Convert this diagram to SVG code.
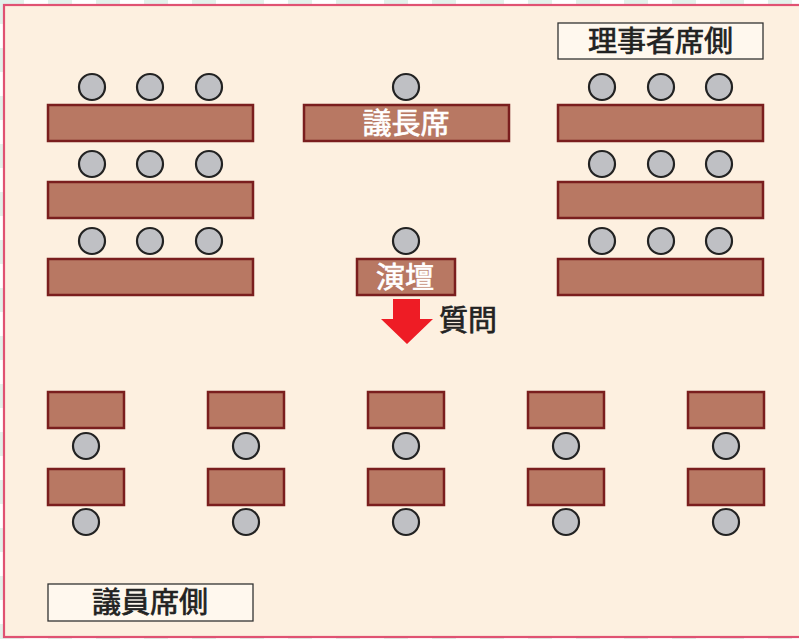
<svg xmlns="http://www.w3.org/2000/svg" width="799" height="639" viewBox="0 0 799 639">
<defs>
<pattern id="bg" width="48" height="48" patternUnits="userSpaceOnUse">
<rect width="48" height="48" fill="#ffffff"/>
<rect x="0" y="0" width="24" height="24" fill="#e3f1ea"/>
<rect x="24" y="24" width="24" height="24" fill="#e3f1ea"/>
</pattern>
<style>
.tbl{fill:#b87863;stroke:#7a1e1e;stroke-width:2.5}
.seat{fill:#bfc0c4;stroke:#222;stroke-width:2.2}
.lbl{fill:#fff8ee;stroke:#333;stroke-width:1.3}
.t{font-family:"Noto Sans CJK JP","Noto Sans",sans-serif;font-size:29px;font-weight:400;text-anchor:middle;stroke-width:0.7}
.dark{fill:#222;stroke:#222}
.white{fill:#ffffff;stroke:#ffffff}
</style>
</defs>
<rect width="799" height="639" fill="url(#bg)"/>
<rect id="frame" x="4" y="5" width="800" height="632" fill="#fdf0e0" stroke="#e05272" stroke-width="2.2"/>

<g id="label-riji"><rect class="lbl" x="558" y="23" width="205" height="36"/><text class="t dark" x="660.5" y="52">理事者席側</text></g>
<g id="label-giin"><rect class="lbl" x="48" y="584" width="205" height="37"/><text class="t dark" x="150" y="613">議員席側</text></g>

<g id="left-tables">
<circle class="seat" cx="92" cy="87" r="13"/><circle class="seat" cx="150" cy="87" r="13"/><circle class="seat" cx="209" cy="87" r="13"/>
<rect class="tbl" x="48" y="105" width="205" height="36"/>
<circle class="seat" cx="92" cy="164" r="13"/><circle class="seat" cx="150" cy="164" r="13"/><circle class="seat" cx="209" cy="164" r="13"/>
<rect class="tbl" x="48" y="182" width="205" height="36"/>
<circle class="seat" cx="92" cy="241" r="13"/><circle class="seat" cx="150" cy="241" r="13"/><circle class="seat" cx="209" cy="241" r="13"/>
<rect class="tbl" x="48" y="259" width="205" height="36"/>
</g>

<g id="right-tables">
<circle class="seat" cx="602" cy="87" r="13"/><circle class="seat" cx="661" cy="87" r="13"/><circle class="seat" cx="719" cy="87" r="13"/>
<rect class="tbl" x="558" y="105" width="205" height="36"/>
<circle class="seat" cx="602" cy="164" r="13"/><circle class="seat" cx="661" cy="164" r="13"/><circle class="seat" cx="719" cy="164" r="13"/>
<rect class="tbl" x="558" y="182" width="205" height="36"/>
<circle class="seat" cx="602" cy="241" r="13"/><circle class="seat" cx="661" cy="241" r="13"/><circle class="seat" cx="719" cy="241" r="13"/>
<rect class="tbl" x="558" y="259" width="205" height="36"/>
</g>

<g id="chair">
<circle class="seat" cx="406" cy="87" r="13"/>
<rect class="tbl" x="304" y="105" width="205" height="36"/>
<text class="t white" x="406" y="134">議長席</text>
</g>

<g id="podium">
<circle class="seat" cx="406" cy="241" r="13"/>
<rect class="tbl" x="357" y="259" width="98" height="36"/>
<text class="t white" x="405" y="288">演壇</text>
</g>

<g id="connectors">
<polygon id="arrow" points="393,299 420,299 420,319 433,319 407,344 381,319 393,319" fill="#ee1c25"/>
</g>
<g id="question"><text class="t dark" x="468" y="331">質問</text></g>

<g id="member-desks">
<g id="col1"><rect class="tbl" x="48" y="392" width="76" height="36"/><circle class="seat" cx="86" cy="446" r="13"/><rect class="tbl" x="48" y="469" width="76" height="36"/><circle class="seat" cx="86" cy="522" r="13"/></g>
<g id="col2"><rect class="tbl" x="208" y="392" width="76" height="36"/><circle class="seat" cx="246" cy="446" r="13"/><rect class="tbl" x="208" y="469" width="76" height="36"/><circle class="seat" cx="246" cy="522" r="13"/></g>
<g id="col3"><rect class="tbl" x="368" y="392" width="76" height="36"/><circle class="seat" cx="406" cy="446" r="13"/><rect class="tbl" x="368" y="469" width="76" height="36"/><circle class="seat" cx="406" cy="522" r="13"/></g>
<g id="col4"><rect class="tbl" x="528" y="392" width="76" height="36"/><circle class="seat" cx="566" cy="446" r="13"/><rect class="tbl" x="528" y="469" width="76" height="36"/><circle class="seat" cx="566" cy="522" r="13"/></g>
<g id="col5"><rect class="tbl" x="688" y="392" width="76" height="36"/><circle class="seat" cx="726" cy="446" r="13"/><rect class="tbl" x="688" y="469" width="76" height="36"/><circle class="seat" cx="726" cy="522" r="13"/></g>
</g>
</svg>
